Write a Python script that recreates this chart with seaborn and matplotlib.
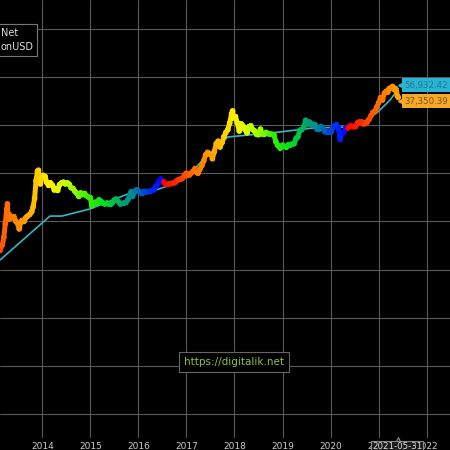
import numpy as np
import pandas as pd
import matplotlib
matplotlib.use("Agg")
import matplotlib.pyplot as plt
import matplotlib.transforms as mtrans
from matplotlib.collections import LineCollection
from matplotlib.colors import LinearSegmentedColormap
from matplotlib.ticker import NullLocator
import seaborn as sns

# ---------------- data ----------------
price_dates = [
    2013.12, 2013.17, 2013.20, 2013.23, 2013.26, 2013.275, 2013.29, 2013.31, 2013.33, 2013.37,
    2013.41, 2013.45, 2013.49, 2013.52, 2013.55, 2013.58, 2013.62, 2013.66, 2013.70, 2013.74,
    2013.78, 2013.81, 2013.84, 2013.87, 2013.90, 2013.92, 2013.94, 2013.96, 2013.98, 2014.02,
    2014.06, 2014.09, 2014.13, 2014.17, 2014.21, 2014.25, 2014.28, 2014.32, 2014.36, 2014.40,
    2014.44, 2014.48, 2014.52, 2014.56, 2014.60, 2014.64, 2014.68, 2014.72, 2014.76, 2014.80,
    2014.84, 2014.88, 2014.92, 2014.96, 2015.00, 2015.03, 2015.06, 2015.10, 2015.14, 2015.18,
    2015.22, 2015.26, 2015.30, 2015.34, 2015.38, 2015.42, 2015.46, 2015.50, 2015.54, 2015.58,
    2015.62, 2015.66, 2015.70, 2015.74, 2015.78, 2015.82, 2015.85, 2015.88, 2015.92, 2015.96,
    2016.00, 2016.04, 2016.08, 2016.12, 2016.16, 2016.20, 2016.24, 2016.28, 2016.32, 2016.36,
    2016.40, 2016.44, 2016.47, 2016.50, 2016.53, 2016.56, 2016.60, 2016.64, 2016.68, 2016.72,
    2016.76, 2016.80, 2016.84, 2016.88, 2016.92, 2016.96, 2017.00, 2017.03, 2017.06, 2017.10,
    2017.14, 2017.18, 2017.21, 2017.24, 2017.28, 2017.32, 2017.36, 2017.40, 2017.44, 2017.48,
    2017.52, 2017.54, 2017.58, 2017.62, 2017.66, 2017.70, 2017.74, 2017.78, 2017.82, 2017.86,
    2017.90, 2017.94, 2017.96, 2017.98, 2018.02, 2018.06, 2018.10, 2018.14, 2018.18, 2018.22,
    2018.26, 2018.30, 2018.34, 2018.38, 2018.42, 2018.46, 2018.50, 2018.54, 2018.58, 2018.62,
    2018.66, 2018.70, 2018.74, 2018.78, 2018.82, 2018.86, 2018.90, 2018.95, 2019.00, 2019.04,
    2019.08, 2019.12, 2019.16, 2019.20, 2019.24, 2019.28, 2019.32, 2019.36, 2019.40, 2019.44,
    2019.48, 2019.50, 2019.53, 2019.56, 2019.60, 2019.64, 2019.68, 2019.72, 2019.76, 2019.80,
    2019.84, 2019.88, 2019.92, 2019.96, 2020.00, 2020.04, 2020.08, 2020.12, 2020.16, 2020.20,
    2020.24, 2020.28, 2020.32, 2020.36, 2020.40, 2020.44, 2020.48, 2020.52, 2020.56, 2020.60,
    2020.64, 2020.68, 2020.72, 2020.76, 2020.80, 2020.84, 2020.88, 2020.92, 2020.96, 2021.00,
    2021.04, 2021.08, 2021.12, 2021.16, 2021.19, 2021.22, 2021.26, 2021.29, 2021.32, 2021.35,
    2021.37, 2021.39, 2021.41,
]
price_values = [
    25, 33, 47, 90, 180, 230, 110, 140, 115, 120,
    125, 100, 90, 70, 95, 105, 100, 120, 130, 140,
    160, 200, 300, 700, 1100, 1150, 800, 600, 750, 900,
    850, 650, 560, 630, 560, 450, 480, 440, 580, 630,
    650, 600, 630, 590, 500, 480, 420, 380, 330, 390,
    360, 380, 340, 320, 310, 210, 230, 250, 240, 280,
    260, 240, 230, 240, 230, 225, 245, 280, 290, 260,
    230, 235, 240, 245, 280, 350, 410, 330, 420, 450,
    430, 390, 380, 420, 410, 415, 420, 440, 450, 530,
    590, 700, 760, 650, 660, 600, 580, 600, 610, 620,
    640, 700, 740, 750, 790, 920, 1000, 900, 920, 1010,
    1100, 1250, 1050, 1000, 1200, 1450, 1800, 2400, 2700, 2500,
    2400, 2000, 2800, 4100, 4600, 3500, 4300, 5700, 7000, 8000,
    11000, 17000, 19500, 14000, 15000, 11000, 7500, 10500, 9500, 8000,
    6900, 9200, 9600, 8000, 7500, 6400, 6300, 8200, 6500, 6400,
    7000, 6600, 6500, 6400, 6300, 4500, 3800, 3300, 3800, 3600,
    3450, 3900, 3900, 4000, 4100, 5200, 5700, 7800, 8000, 9000,
    12500, 11000, 10500, 11500, 10100, 10400, 10000, 8200, 8100, 9300,
    8500, 7300, 7200, 7200, 7200, 8700, 9500, 10200, 8800, 5000,
    6700, 7200, 8800, 8700, 9500, 9500, 9200, 9300, 11100, 11600,
    11700, 10500, 10700, 11400, 13100, 15500, 18300, 19200, 23500, 29000,
    37000, 33000, 46000, 50000, 48000, 57000, 59000, 63000, 55000, 57000,
    49000, 40000, 37350.39,
]

model_dates = [2013.12, 2014.16, 2014.41, 2014.99, 2015.83, 2016.24, 2016.55, 2017.01,
               2017.34, 2017.86, 2018.94, 2019.63, 2020.34, 2020.55, 2020.96, 2021.24, 2021.41]
model_values = [15.8, 129, 129, 181, 388, 407, 518, 834,
                1878, 5636, 7160, 8670, 9090, 9530, 17740, 33000, 56932.42]

# start of each colour cycle (halving periods)
cycle_starts = [2012.64, 2016.52, 2020.36, 2024.30]
year_ticks = [2014, 2015, 2016, 2017, 2018, 2019, 2020, 2021, 2022]
decade_ticks = [1e-2, 1e-1, 1, 10, 100, 1e3, 1e4, 1e5, 1e6]
legend_lines = ["Net", "onUSD"]
watermark = "https://digitalik.net"
last_date_label = "2021-05-31"

# ---------------- style ----------------
sns.set_style("dark", {"axes.facecolor": "black", "figure.facecolor": "black",
                       "grid.color": "#555555"})
plt.rcParams["font.family"] = ["DejaVu Sans"]

W = H = 450
fig = plt.figure(figsize=(4.5, 4.5), dpi=100, facecolor="black")
ax = fig.add_axes([0, 12 / H, 1, 438 / H])
ax.set_facecolor("black")

cmap = LinearSegmentedColormap.from_list("cycle", [
    (0.00, "#ff0000"), (0.08, "#ff3000"), (0.15, "#ff6600"), (0.25, "#ff9900"),
    (0.38, "#ffee00"), (0.45, "#ddff00"), (0.52, "#99ff00"), (0.60, "#33ee00"),
    (0.70, "#00dd22"), (0.77, "#00aa66"), (0.84, "#008899"), (0.89, "#0055cc"),
    (0.95, "#0022ff"), (1.00, "#0000ff")])

d = np.array(price_dates)
cs = np.array(cycle_starts)
idx = np.searchsorted(cs, d, side="right") - 1
frac = (d - cs[idx]) / (cs[idx + 1] - cs[idx])
df = pd.DataFrame({"date": price_dates, "price": price_values, "phase": frac})

# model line
sns.lineplot(x=model_dates, y=model_values, ax=ax, color="#3bb3c6", linewidth=1.2,
             zorder=3)

# price: coloured connecting segments + dots
pts = np.column_stack([df["date"], df["price"]])
segs = np.stack([pts[:-1], pts[1:]], axis=1)
seg_col = cmap((frac[:-1] + frac[1:]) / 2)
lc = LineCollection(segs, colors=seg_col, linewidths=3.6, capstyle="round", zorder=4)
ax.add_collection(lc)
sns.scatterplot(data=df, x="date", y="price", hue="phase", palette=cmap,
                hue_norm=(0, 1), legend=False, s=17, linewidth=0, ax=ax, zorder=5)

ax.set_yscale("log")
ax.set_xlim(2013.12, 2022.485)
ax.set_ylim(3.21e-3, 3.92e6)
ax.set_yticks(decade_ticks)
ax.yaxis.set_minor_locator(NullLocator())
ax.set_xticks(year_ticks)
ax.set_xticklabels([str(y) for y in year_ticks])
ax.grid(True, which="major", color="#5a5a5a", linewidth=0.8)
ax.tick_params(axis="x", length=0, pad=3.0, labelsize=6.5, labelcolor="#cccccc")
ax.tick_params(axis="y", length=0, labelleft=False)
ax.set_xlabel("")
ax.set_ylabel("")
for s in ax.spines.values():
    s.set_visible(False)

# value labels at right, with small pointers
for val_x, val_y, dy, fc, tc in [
        (model_dates[-1], model_values[-1], 2.3, "#27b5d1", "#2d6f93"),
        (price_dates[-1], price_values[-1], -2.6, "#f7a825", "#7a4f10")]:
    ax.annotate(f"{val_y:,.2f}", xy=(val_x, val_y), xytext=(4.2, dy),
                textcoords="offset points", ha="left", va="center", fontsize=6.2,
                color=tc, annotation_clip=False, zorder=7,
                bbox=dict(boxstyle="square,pad=0.3", fc=fc, ec="none"))
    tri = mtrans.offset_copy(ax.transData, fig=fig, x=1.9, y=dy, units="points")
    ax.plot([val_x], [val_y], marker="<", markersize=4, color=fc, transform=tri,
            clip_on=False, zorder=7)

# legend fragment (top-left, cut off)
fig.text(0.5 / W, 1 - 40 / H, "\n".join(legend_lines), ha="left", va="center",
         fontsize=7, color="#dddddd", linespacing=1.45,
         bbox=dict(boxstyle="square,pad=0.4", fc="black", ec="#777777", lw=0.8))

# watermark
fig.text(234 / W, 1 - 362 / H, watermark, ha="center", va="center", fontsize=7.5,
         color="#8fc24a",
         bbox=dict(boxstyle="square,pad=0.45", fc="black", ec="#666666", lw=0.8))

# crosshair date label at bottom
trans = mtrans.blended_transform_factory(ax.transData, fig.transFigure)
ax.plot([price_dates[-1]], [1 - 439.5 / H], marker="^", markersize=5, color="#1c1c1c",
        markeredgecolor="#888888", markeredgewidth=0.8, transform=trans, clip_on=False,
        zorder=8)
fig.text(397 / W, 1 - 441.8 / H, last_date_label, ha="center", va="top", fontsize=6.2,
         color="#dddddd",
         bbox=dict(boxstyle="square,pad=0.12", fc="#1c1c1c", ec="#888888", lw=0.8))

fig.savefig("out.png", dpi=100, facecolor="black")
